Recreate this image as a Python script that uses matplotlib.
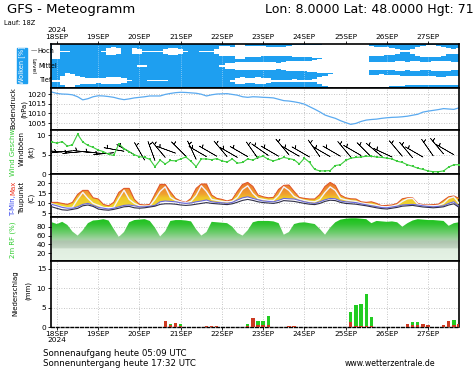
import matplotlib
matplotlib.use("Agg")

import matplotlib.pyplot as plt
import numpy as np
from matplotlib.colors import LinearSegmentedColormap
from matplotlib.patches import Rectangle


FIG_W, FIG_H = 474, 370
PLOT_LEFT, PLOT_RIGHT = 51, 459

# forecast steps in hours from 18SEP 00 UTC (GFS run 17SEP 18Z), 3-hourly
HOURS = np.arange(-3, 235, 3)
DAY_HOURS = np.arange(0, 217, 24)
DAY_LABELS = ["18SEP", "19SEP", "20SEP", "21SEP", "22SEP",
              "23SEP", "24SEP", "25SEP", "26SEP", "27SEP"]

# cloud cover per level (%), one row = 8 steps
CLOUD_HIGH = [100, 100, 10, 10, 0, 0, 0, 0,
              0, 0, 10, 45, 55, 40, 0, 0,
              40, 35, 10, 10, 10, 10, 35, 45,
              45, 35, 10, 0, 0, 10, 10, 10,
              30, 70, 70, 60, 100, 100, 75, 75,
              75, 70, 60, 60, 65, 65, 70, 80,
              80, 80, 80, 85, 90, 100, 100, 100,
              100, 100, 100, 100, 100, 100, 70, 60,
              60, 55, 50, 30, 15, 15, 30, 60,
              75, 80, 80, 75, 60, 40, 30, 40]
CLOUD_MID = [0, 0, 0, 0, 0, 0, 0, 0,
             0, 0, 0, 0, 0, 0, 0, 0,
             0, 10, 10, 0, 0, 0, 0, 0,
             0, 0, 0, 0, 0, 0, 0, 0,
             0, 20, 45, 45, 55, 60, 55, 50,
             55, 60, 55, 50, 45, 55, 65, 70,
             70, 70, 75, 85, 90, 95, 100, 100,
             100, 100, 100, 100, 100, 100, 55, 50,
             55, 60, 60, 65, 65, 60, 65, 70,
             60, 60, 65, 70, 70, 65, 60, 60]
CLOUD_LOW = [15, 15, 60, 100, 90, 60, 45, 40,
             40, 35, 40, 50, 50, 45, 35, 10,
             0, 0, 0, 10, 10, 10, 10, 0,
             0, 0, 0, 0, 0, 0, 0, 0,
             0, 0, 0, 15, 40, 45, 30, 35,
             45, 40, 30, 15, 15, 15, 15, 20,
             15, 15, 15, 20, 50, 70, 85, 100,
             100, 100, 100, 100, 100, 100, 80, 80,
             85, 80, 75, 75, 70, 65, 60, 60,
             60, 65, 60, 55, 55, 60, 60, 60]

PRESSURE = [1021.0, 1020.3, 1020.0, 1019.9, 1019.6, 1018.6, 1017.0, 1017.6,
            1018.6, 1019.1, 1019.0, 1018.7, 1018.3, 1017.6, 1017.1, 1017.5,
            1018.0, 1018.3, 1018.6, 1019.0, 1019.0, 1019.0, 1019.8, 1020.3,
            1020.7, 1020.9, 1020.8, 1020.6, 1020.4, 1019.9, 1019.0, 1019.6,
            1020.0, 1020.1, 1020.2, 1019.8, 1019.4, 1018.6, 1018.3, 1018.6,
            1018.5, 1018.3, 1018.2, 1018.0, 1017.3, 1016.6, 1016.4, 1016.0,
            1015.5, 1014.8, 1013.5, 1012.2, 1010.8, 1009.2, 1008.3, 1007.5,
            1006.3, 1005.3, 1004.4, 1004.9, 1005.9, 1006.6, 1006.9, 1007.1,
            1007.5, 1007.8, 1008.0, 1008.1, 1008.3, 1008.6, 1009.1, 1009.6,
            1010.7, 1011.2, 1011.6, 1012.0, 1012.5, 1012.3, 1012.1, 1012.9]

WIND_SPEED = [8.3, 8.0, 8.4, 7.2, 7.6, 10.3, 8.3, 7.4,
              6.9, 6.2, 5.8, 5.1, 4.8, 7.8, 6.6, 5.8,
              5.0, 4.5, 4.3, 3.8, 1.9, 3.6, 2.6, 3.5,
              3.4, 3.9, 4.4, 3.3, 1.9, 3.9, 3.9, 3.7,
              4.0, 3.4, 3.1, 3.9, 2.8, 3.0, 3.9, 3.6,
              4.3, 4.6, 3.8, 3.4, 3.8, 4.3, 4.0, 3.7,
              2.6, 4.1, 3.0, 1.2, 0.8, 0.8, 0.9, 2.2,
              2.4, 3.5, 4.1, 4.3, 4.4, 4.6, 4.6, 4.4,
              4.3, 4.1, 3.9, 3.3, 3.0, 2.4, 2.0, 1.5,
              1.2, 0.8, 0.6, 0.6, 0.8, 1.8, 2.4, 2.4]
WIND_GUST = [5.3, 5.5, 5.7, 6.0, 6.0, 5.9, 5.8, 5.8,
             5.6, 5.4, 5.3, 5.2, 5.5, 5.8, 5.9, 5.4,
             5.0, 4.3, 3.6, 3.0, 3.5, 4.0, 4.3, 5.0,
             5.4, 5.0, 4.6, 4.2, 3.8, 4.0, 4.5, 4.6,
             4.6, 4.2, 4.5, 4.8, 4.3, 4.0, 4.5, 4.2,
             4.0, 4.6, 4.8, 4.5, 4.6, 5.0, 5.0, 4.8,
             4.6, 4.5, 4.4, 4.2, 4.5, 4.6, 4.5, 4.4,
             4.6, 4.5, 4.4, 4.6, 4.8, 4.4, 4.4, 4.3,
             4.6, 4.6, 4.4, 4.2, 4.6, 4.5, 4.2, 4.0,
             4.4, 4.5, 4.7, 4.8, 5.2, 5.4, 5.0, 4.8]
WIND_DIR = [265, 270, 275, 270, 265, 260, 265, 270,
            275, 280, 275, 270, 265, 270, 280, 290,
            300, 320, 330, 335, 340, 330, 320, 300,
            290, 300, 315, 330, 335, 320, 300, 290,
            300, 310, 320, 315, 300, 290, 300, 315,
            325, 320, 305, 295, 300, 310, 320, 310,
            300, 290, 300, 315, 325, 320, 300, 290,
            300, 315, 320, 310, 300, 305, 315, 320,
            310, 300, 295, 305, 320, 330, 320, 310,
            300, 310, 325, 330, 320, 310, 300, 290]

T_MAX = [10.5, 10.5, 10.0, 9.5, 10.5, 14.5, 16.5, 16.5,
         12.8, 12.2, 9.5, 8.8, 10.5, 15.5, 17.5, 17.5,
         12.0, 9.5, 9.2, 9.5, 14.5, 19.5, 19.5, 15.8,
         12.5, 11.2, 10.5, 12.5, 17.5, 19.7, 19.7, 14.2,
         12.5, 12.0, 11.2, 12.0, 16.0, 19.5, 20.5, 18.5,
         14.2, 13.3, 12.8, 13.0, 17.0, 19.0, 19.2, 16.0,
         13.0, 12.5, 12.2, 12.2, 14.5, 18.5, 20.5, 19.0,
         14.2, 12.8, 12.3, 12.2, 10.8, 10.5, 10.8, 10.0,
         8.8, 9.0, 9.2, 10.0, 12.3, 12.8, 12.8, 10.0,
         9.3, 9.2, 9.4, 9.6, 11.5, 13.3, 13.7, 12.5]
T_MIN = [9.5, 8.8, 8.0, 7.6, 7.6, 8.3, 9.5, 10.0,
         9.0, 8.0, 7.6, 7.2, 7.6, 8.3, 9.0, 9.2,
         8.8, 8.3, 8.3, 8.6, 9.0, 10.8, 11.2, 11.0,
         10.8, 10.3, 10.0, 10.2, 10.8, 11.2, 11.7, 10.8,
         10.5, 10.3, 10.0, 10.5, 11.7, 12.8, 13.3, 12.5,
         11.8, 11.2, 11.0, 10.8, 11.5, 12.5, 12.3, 12.2,
         11.5, 10.8, 10.3, 10.0, 10.8, 11.8, 12.5, 12.3,
         11.2, 10.8, 10.6, 10.4, 9.8, 9.3, 8.8, 8.4,
         7.9, 7.8, 8.2, 8.6, 9.2, 9.4, 9.5, 9.2,
         8.8, 8.5, 8.3, 8.5, 8.8, 10.0, 10.8, 8.5]
T_2M = [9.8, 9.0, 8.3, 7.8, 8.0, 12.0, 15.5, 12.5,
        10.0, 9.0, 8.0, 7.5, 8.0, 12.5, 16.6, 12.0,
        10.0, 8.8, 8.6, 8.8, 12.0, 16.0, 18.3, 13.0,
        11.5, 10.8, 10.3, 11.0, 14.0, 18.8, 16.0, 12.0,
        11.5, 11.0, 10.8, 11.0, 13.0, 17.0, 18.8, 15.0,
        12.5, 12.0, 11.5, 11.5, 14.0, 18.3, 16.5, 13.5,
        12.2, 11.5, 11.0, 10.8, 12.0, 15.5, 18.3, 16.5,
        12.5, 11.8, 11.3, 11.0, 10.2, 9.8, 9.5, 9.0,
        8.4, 8.3, 8.6, 9.2, 11.0, 12.3, 12.5, 9.6,
        9.0, 8.8, 8.8, 9.0, 10.0, 12.5, 13.3, 10.0]
DEWPOINT = [8.3, 7.5, 6.8, 6.6, 7.0, 7.5, 8.8, 9.2,
            8.5, 7.2, 6.8, 6.6, 7.0, 7.6, 8.3, 8.5,
            7.8, 7.6, 7.8, 8.2, 8.6, 9.5, 9.8, 9.8,
            9.6, 9.2, 9.0, 9.2, 9.6, 10.0, 10.4, 10.0,
            9.8, 9.6, 9.4, 9.8, 10.6, 11.5, 12.0, 11.5,
            10.8, 10.4, 10.2, 10.0, 10.5, 11.4, 11.2, 11.0,
            10.5, 10.0, 9.6, 9.4, 10.0, 11.0, 11.6, 11.4,
            10.5, 10.0, 9.8, 9.6, 9.2, 8.8, 8.3, 7.8,
            7.4, 7.2, 7.6, 8.0, 8.6, 8.8, 9.0, 8.6,
            8.2, 8.0, 7.8, 8.0, 8.3, 9.2, 9.8, 8.0]

REL_HUMIDITY = [90, 86, 91, 84, 69, 60, 72, 88,
                94, 95, 97, 94, 75, 57, 68, 90,
                95, 96, 97, 93, 78, 58, 70, 93,
                95, 95, 94, 92, 74, 60, 68, 91,
                90, 89, 88, 80, 66, 60, 72, 90,
                93, 93, 93, 92, 88, 62, 68, 86,
                89, 90, 88, 86, 75, 62, 78, 90,
                96, 98, 99, 99, 98, 97, 88, 93,
                92, 91, 92, 90, 80, 88, 94, 97,
                96, 95, 95, 94, 93, 82, 88, 90]

PRECIP_TOTAL = [0, 0, 0, 0, 0, 0, 0, 0,
                0, 0, 0, 0, 0, 0, 0, 0,
                0, 0, 0, 0, 0, 0, 1.5, 0.9,
                1.0, 0.7, 0, 0, 0, 0, 0.2, 0.2,
                0.2, 0, 0, 0, 0, 0, 0.9, 2.4,
                1.5, 1.6, 2.8, 0, 0, 0, 0.3, 0.3,
                0, 0, 0, 0, 0, 0, 0, 0,
                0, 0, 3.9, 5.6, 5.9, 8.4, 2.6, 0,
                0, 0, 0, 0, 0, 0.9, 1.3, 1.3,
                0.9, 0.5, 0, 0, 0.5, 1.5, 1.7, 0.8]
PRECIP_CONV = [0, 0, 0, 0, 0, 0, 0, 0,
               0, 0, 0, 0, 0, 0, 0, 0,
               0, 0, 0, 0, 0, 0, 1.5, 0.4,
               1.0, 0.3, 0, 0, 0, 0, 0.2, 0.2,
               0.2, 0, 0, 0, 0, 0, 0.3, 2.4,
               0.5, 0.4, 0.6, 0, 0, 0, 0.3, 0.3,
               0, 0, 0, 0, 0, 0, 0, 0,
               0, 0, 1.3, 0.3, 0.3, 0.3, 0.3, 0,
               0, 0, 0, 0, 0, 0.9, 0.5, 0.6,
               0.9, 0.5, 0, 0, 0.5, 1.5, 0.4, 0.8]

CLOUD_BLUE = "#1e9ff0"
GRID_STYLE = dict(color="#b4b4b4", linestyle=(0, (1, 2)), linewidth=0.6)


def _frac(x: float, y: float) -> tuple[float, float]:
    return x / FIG_W, 1 - y / FIG_H


def _add_panel(fig, top: float, bottom: float):
    return fig.add_axes([
        PLOT_LEFT / FIG_W,
        1 - bottom / FIG_H,
        (PLOT_RIGHT - PLOT_LEFT) / FIG_W,
        (bottom - top) / FIG_H,
    ])


def _style_panel(ax, ylim, yticks) -> None:
    ax.set_xlim(-3.5, 234)
    ax.set_ylim(*ylim)
    ax.set_yticks(yticks)
    ax.set_xticks(DAY_HOURS)
    ax.tick_params(axis="y", labelsize=5.3, length=2.5, width=0.6, pad=1)
    ax.tick_params(axis="x", length=0, labelbottom=False)
    for spine in ax.spines.values():
        spine.set_linewidth(1.2)
    ax.grid(True, **GRID_STYLE)
    ax.set_axisbelow(True)


def _gradient_fill(ax, lower, upper, cmap, vmin, vmax, zorder=1.5) -> None:
    band = ax.fill_between(HOURS, lower, upper, facecolor="none", edgecolor="none")
    grad = np.linspace(0, 1, 256).reshape(-1, 1)
    img = ax.imshow(grad, cmap=cmap, aspect="auto", origin="lower",
                    extent=(HOURS[0], HOURS[-1], vmin, vmax),
                    interpolation="bilinear", zorder=zorder)
    img.set_clip_path(band.get_paths()[0], transform=ax.transData)


def _side_label(fig, x, y, text, color="black", size=5.0) -> None:
    fig.text(*_frac(x, y), text, rotation=90, ha="center", va="center",
             fontsize=size, color=color)


fig = plt.figure(figsize=(FIG_W / 100, FIG_H / 100), dpi=100)

# header
fig.text(*_frac(7, 9), "GFS - Meteogramm", fontsize=9.5, va="center")
fig.text(*_frac(474, 9), "Lon: 8.0000 Lat: 48.0000 Hgt: 71", fontsize=9,
         va="center", ha="right")
fig.text(*_frac(4, 23), "Lauf: 18Z", fontsize=4.8, va="center")
fig.text(*_frac(57, 30), "2024", fontsize=5.3, va="center", ha="center")

# clouds
ax_cloud = _add_panel(fig, 44, 88)
_style_panel(ax_cloud, (0, 3), [])
ax_cloud.set_facecolor(CLOUD_BLUE)
ax_cloud.grid(True, axis="x", color="#d8e8f8", linestyle=(0, (1, 2)), linewidth=0.5)
ax_cloud.grid(False, axis="y")
for center, cover in ((2.5, CLOUD_HIGH), (1.5, CLOUD_MID), (0.5, CLOUD_LOW)):
    half = np.array(cover) / 100 * 0.5
    ax_cloud.fill_between(HOURS, center - half, center + half, step="mid",
                          color="white", linewidth=0, zorder=2)
ax_cloud.xaxis.set_ticks_position("top")
ax_cloud.set_xticks(DAY_HOURS)
ax_cloud.set_xticklabels(DAY_LABELS)
ax_cloud.tick_params(axis="x", top=True, labeltop=True, labelsize=5.3,
                     length=2, width=0.6, pad=1.2)

fig.patches.append(Rectangle(_frac(17, 83), 10 / FIG_W, 35 / FIG_H,
                             transform=fig.transFigure, color=CLOUD_BLUE))
_side_label(fig, 22, 65.5, "Wolken [%]", color="white", size=4.8)
fig.text(*_frac(31, 51), "\u2014", fontsize=4.5, va="center")
fig.text(*_frac(37, 51), "Hoch", fontsize=4.8, va="center")
fig.text(*_frac(38, 66), "Mittel", fontsize=4.8, va="center")
fig.text(*_frac(40, 80), "Tief", fontsize=4.8, va="center")
fig.text(*_frac(33, 66), "Level", fontsize=4.3, rotation=-90, ha="center", va="center")

# surface pressure
ax_pres = _add_panel(fig, 88, 130)
_style_panel(ax_pres, (1001.5, 1023.1), [1005, 1010, 1015, 1020])
ax_pres.plot(HOURS, PRESSURE, color="#5aaaf0", linewidth=0.9)
_side_label(fig, 13, 108, "Bodendruck")
_side_label(fig, 24, 109, "(hPa)")

# wind: barbs every 6 h, sitting on the gust curve
ax_wind = _add_panel(fig, 130, 174)
_style_panel(ax_wind, (0, 11.4), [0, 5, 10])
direction = np.deg2rad(WIND_DIR)
gust = np.array(WIND_GUST)
ax_wind.barbs(HOURS[::2], gust[::2], (-gust * np.sin(direction))[::2],
              (-gust * np.cos(direction))[::2],
              length=5.4, linewidth=0.45, color="black", zorder=3,
              sizes=dict(emptybarb=0, spacing=0.12, height=0.3, width=0.2))
ax_wind.plot(HOURS, WIND_SPEED, color="#3ccc3c", linewidth=0.8, marker="s",
             markersize=1.8, markeredgewidth=0, zorder=4)
_side_label(fig, 13, 152, "Wind Geschw.", color="#33cc33")
_side_label(fig, 22, 148, "Windböen")
_side_label(fig, 31, 152, "(kt)")

# temperature
ax_temp = _add_panel(fig, 174, 217)
_style_panel(ax_temp, (3.2, 24.7), [5, 10, 15, 20])
temp_cmap = LinearSegmentedColormap.from_list(
    "temp", [(0, "#eed830"), (0.35, "#eec828"), (0.5, "#f0a030"), (1, "#e8702a")])
_gradient_fill(ax_temp, T_MIN, T_MAX, temp_cmap, 8, 21)
ax_temp.set_xlim(-3.5, 234)
ax_temp.set_ylim(3.2, 24.7)
ax_temp.plot(HOURS, T_MAX, color="#e0582a", linewidth=0.8, zorder=3)
ax_temp.plot(HOURS, T_2M, color="#f4f4ff", linewidth=1.0, zorder=3)
ax_temp.plot(HOURS, T_MIN, color="#6a6ae0", linewidth=0.8, zorder=3)
ax_temp.plot(HOURS, DEWPOINT, color="#303048", linewidth=0.8, zorder=3)
_side_label(fig, 13, 206, "T-Min,", color="#3344ee")
_side_label(fig, 13, 188, "Max", color="#ee3322")
_side_label(fig, 22, 198, "Taupunkt")
_side_label(fig, 31, 198, "(C)")

# relative humidity
ax_rh = _add_panel(fig, 217, 261)
_style_panel(ax_rh, (2.6, 101.9), [20, 40, 60, 80])
rh_cmap = LinearSegmentedColormap.from_list(
    "rh", [(0, "#e6f3e6"), (0.3, "#e0eee0"), (0.31, "#c4d6c4"), (0.46, "#aec4ae"),
           (0.5, "#a6d2a6"), (0.66, "#6ccc6c"), (0.85, "#30c430"), (1, "#14c414")])
_gradient_fill(ax_rh, np.zeros(len(HOURS)), REL_HUMIDITY, rh_cmap, 0, 100)
ax_rh.set_xlim(-3.5, 234)
ax_rh.set_ylim(2.6, 101.9)
for line in ax_rh.get_ygridlines() + ax_rh.get_xgridlines():
    line.set_zorder(2)
_side_label(fig, 13, 240, "2m RF (%)", color="#33cc33")

# precipitation
ax_rain = _add_panel(fig, 261, 327)
_style_panel(ax_rain, (0, 17), [0, 5, 10, 15])
ax_rain.bar(HOURS, PRECIP_TOTAL, width=2.0, color="#22cc22", zorder=3)
ax_rain.bar(HOURS, PRECIP_CONV, width=2.0, color="#cc3a22", zorder=3)
ax_rain.spines["bottom"].set_linestyle((0, (2, 1.5)))
ax_rain.spines["bottom"].set_linewidth(1.0)
ax_rain.set_xticks(DAY_HOURS)
ax_rain.set_xticklabels(["18SEP\n2024"] + DAY_LABELS[1:])
ax_rain.tick_params(axis="x", labelbottom=True, labelsize=5.3, length=2,
                    width=0.6, pad=1.2)
for label in ax_rain.get_xticklabels():
    label.set_linespacing(0.95)
    label.set_verticalalignment("top")
_side_label(fig, 15, 293, "Niederschlag")
_side_label(fig, 28, 290, "(mm)")

# footer
fig.text(*_frac(43, 353), "Sonnenaufgang heute 05:09 UTC", fontsize=6.2, va="center")
fig.text(*_frac(43, 363), "Sonnenuntergang heute 17:32 UTC", fontsize=6.2, va="center")
fig.text(*_frac(345, 364), "www.wetterzentrale.de", fontsize=5.6, va="center")

fig.savefig("out.png", dpi=100)
plt.close(fig)
